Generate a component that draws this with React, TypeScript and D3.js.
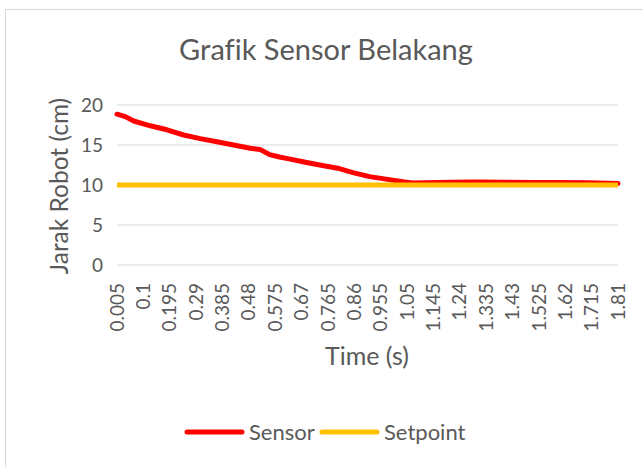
import React from 'react';
import * as d3 from 'd3';

// time (s) and sensor readings (cm)
const timeValues = [
  0.005, 0.035, 0.065, 0.125, 0.185, 0.245, 0.305, 0.365, 0.425, 0.485, 0.52,
  0.555, 0.59, 0.62, 0.675, 0.735, 0.8, 0.855, 0.915, 0.98, 1.035, 1.07, 1.16,
  1.205, 1.3, 1.4, 1.5, 1.6, 1.7, 1.81
];
const sensorValues = [
  18.85, 18.55, 18.0, 17.4, 16.9, 16.25, 15.8, 15.4, 15.0, 14.6, 14.45, 13.8,
  13.5, 13.3, 12.9, 12.5, 12.1, 11.55, 11.05, 10.7, 10.4, 10.25, 10.3, 10.35,
  10.38, 10.35, 10.32, 10.3, 10.28, 10.2
];
const setpointValue = 10;

const xTickLabels = [
  '0.005', '0.1', '0.195', '0.29', '0.385', '0.48', '0.575', '0.67', '0.765',
  '0.86', '0.955', '1.05', '1.145', '1.24', '1.335', '1.43', '1.525', '1.62',
  '1.715', '1.81'
];
const yTicks = [0, 5, 10, 15, 20];

const seriesNames = ['Sensor', 'Setpoint'];
const seriesColors = ['#FF0000', '#FFC000'];

const font = 'Lato, "Open Sans", sans-serif';
const textColor = '#595959';

const App = () => {
  const width = 643;
  const height = 467;
  const left = 117;
  const right = 618;
  const top = 105;
  const bottom = 265;

  const x = d3.scaleLinear().domain([0.005, 1.81]).range([left, right]);
  const y = d3.scaleLinear().domain([0, 20]).range([bottom, top]);

  const sensorLine = d3.line<number>()
    .x((d, i) => x(timeValues[i]))
    .y(d => y(d));

  const setpointLine = d3.line<number>()
    .x(d => x(d))
    .y(() => y(setpointValue));

  return (
    <svg width={width} height={height} style={{ position: 'absolute', left: 0, top: 0, fontVariantLigatures: 'none' }}>
      <rect x={0} y={0} width={width} height={height} fill="#fff" />
      <rect x={5.5} y={9.5} width={width + 10} height={height + 10} fill="none" stroke="#D9D9D9" />

      <text x={326} y={60} textAnchor="middle" fontFamily={font} fontSize={29} fill={textColor}>
        Grafik Sensor Belakang
      </text>

      {yTicks.map(t => (
        <g key={t}>
          <line x1={left} x2={right} y1={y(t)} y2={y(t)} stroke="#D9D9D9" strokeWidth={1} />
          <text x={103} y={y(t)} dy="0.35em" textAnchor="end" fontFamily={font} fontSize={19} fill={textColor}>
            {t}
          </text>
        </g>
      ))}

      {xTickLabels.map(l => (
        <text
          key={l}
          transform={`translate(${x(+l)},283) rotate(-90)`}
          dy="0.35em"
          textAnchor="end"
          fontFamily={font}
          fontSize={19}
          fill={textColor}
        >
          {l}
        </text>
      ))}

      <path d={sensorLine(sensorValues) || ''} fill="none" stroke={seriesColors[0]} strokeWidth={5} strokeLinejoin="round" strokeLinecap="round" />
      <path d={setpointLine([0.005, 1.81]) || ''} fill="none" stroke={seriesColors[1]} strokeWidth={5} />

      <text transform="translate(68,186) rotate(-90)" textAnchor="middle" fontFamily={font} fontSize={24.5} fill={textColor}>
        Jarak Robot (cm)
      </text>
      <text x={367} y={365} textAnchor="middle" fontFamily={font} fontSize={25} fill={textColor}>
        Time (s)
      </text>

      {seriesNames.map((name, i) => {
        const lx = i === 0 ? 187 : 322;
        return (
          <g key={name}>
            <line x1={lx} x2={lx + 55} y1={432} y2={432} stroke={seriesColors[i]} strokeWidth={5} strokeLinecap="round" />
            <text x={lx + 62} y={432} dy="0.35em" fontFamily={font} fontSize={22} fill={textColor}>
              {name}
            </text>
          </g>
        );
      })}
    </svg>
  );
};

export default App;
